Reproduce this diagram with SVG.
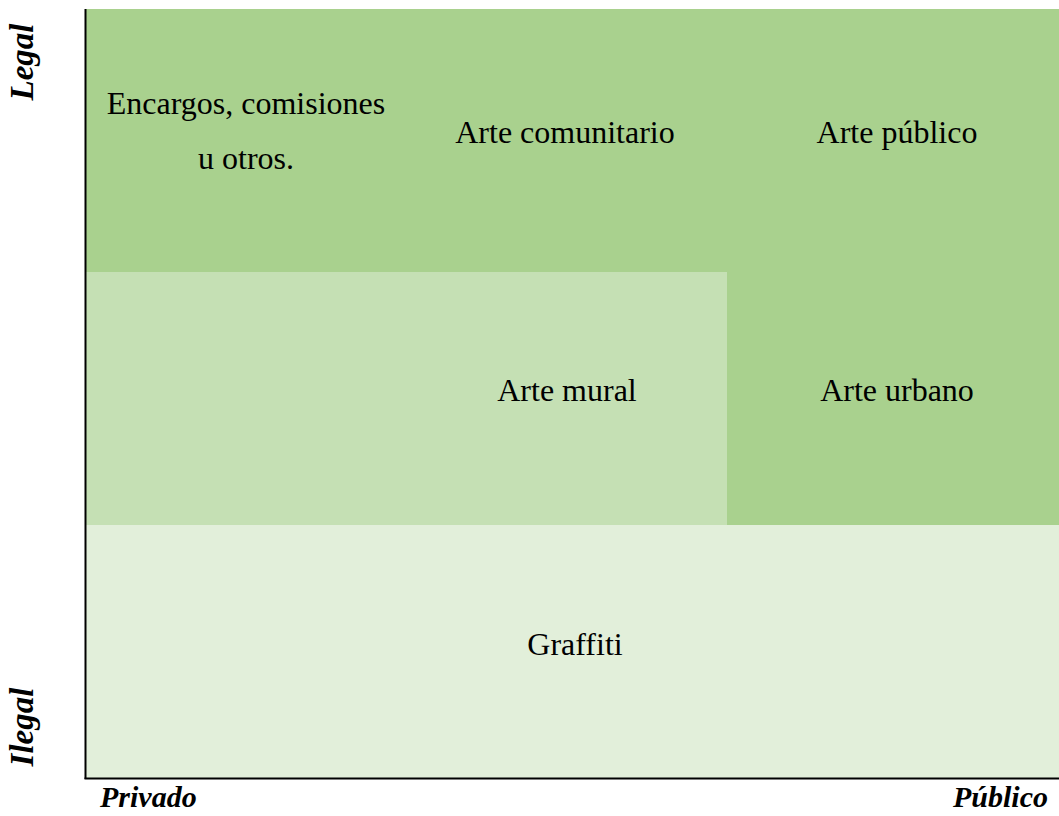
<svg xmlns="http://www.w3.org/2000/svg" width="1059" height="816" viewBox="0 0 1059 816">
<style>
.t{font-family:"Liberation Serif","Times New Roman",serif;font-size:32px;fill:#000;text-anchor:middle}
.a{font-family:"Liberation Serif","Times New Roman",serif;font-weight:bold;font-style:italic;fill:#000}
.h{font-size:30px}
.v{font-size:33px}
</style>
<rect width="1059" height="816" fill="#fff"/>
<g id="zone-legal"><rect x="86" y="9" width="973" height="263" fill="#A9D18E"/></g>
<g id="zone-mural"><rect x="86" y="272" width="641" height="253" fill="#C5E0B4"/></g>
<g id="zone-urbano"><rect x="727" y="272" width="332" height="253" fill="#A9D18E"/></g>
<g id="zone-graffiti"><rect x="86" y="525" width="973" height="254" fill="#E2EFDA"/></g>
<g id="encargos"><text class="t" x="246" y="114">Encargos, comisiones</text><text class="t" x="246" y="169">u otros.</text></g>
<g id="comunitario"><text class="t" x="565" y="143">Arte comunitario</text></g>
<g id="publico"><text class="t" x="897" y="143">Arte público</text></g>
<g id="mural"><text class="t" x="567" y="401">Arte mural</text></g>
<g id="urbano"><text class="t" x="897" y="401">Arte urbano</text></g>
<g id="graffiti"><text class="t" x="575" y="655">Graffiti</text></g>
<g id="axes" stroke="#000" stroke-width="2" fill="none">
<line x1="85.5" y1="9" x2="85.5" y2="779"/>
<line x1="84.5" y1="778.5" x2="1059" y2="778.5"/>
</g>
<g id="labels">
<text class="a v" transform="translate(33,62) rotate(-90)" text-anchor="middle">Legal</text>
<text class="a v" transform="translate(33,727) rotate(-90)" text-anchor="middle">Ilegal</text>
<text class="a h" x="100" y="807">Privado</text>
<text class="a h" x="1048" y="807" text-anchor="end">Público</text>
</g>
</svg>
